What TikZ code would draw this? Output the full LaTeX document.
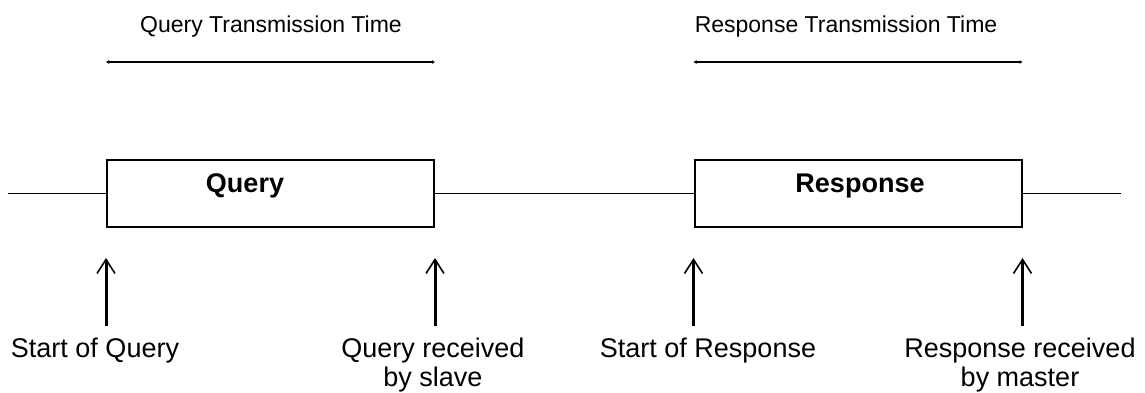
\documentclass[tikz,border=0pt]{standalone}
\usepackage{fontspec}
\setmainfont{Liberation Sans}
\usetikzlibrary{arrows.meta,calc}

\begin{document}
\begin{tikzpicture}[x=0.5pt,y=-0.5pt]
\tikzstyle{frame}=[draw,line width=1pt,minimum width=163.5pt,minimum height=33.5pt,inner sep=0pt]
\tikzstyle{boxtext}=[inner sep=0pt,anchor=base,font=\fontsize{13.5}{14.5}\selectfont\bfseries]
\tikzstyle{title}=[inner sep=0pt,anchor=north,font=\fontsize{11.5}{13}\selectfont]
\tikzstyle{event}=[inner sep=0pt,anchor=north,align=center,font=\fontsize{13.5}{14.5}\selectfont]
\tikzstyle{wire}=[line width=0.75pt]
\tikzstyle{span}=[line width=0.75pt,{Latex[length=1.5pt,width=2pt]}-{Latex[length=1.5pt,width=2pt]}]
\tikzstyle{marker}=[line width=1.5pt,-{Straight Barb[length=7pt,width=9pt,line width=0.8pt]},shorten >=15pt]
\useasboundingbox (0,0) rectangle (1145,392);

% frames on the line
\node[frame] (query) at (270.5,193.5) {};
\node[frame] (response) at (858,193.5) {};
\node[boxtext] (querytext) at (245,192) {Query};
\node[boxtext] (responsetext) at (860,192) {Response};

\coordinate (linestart) at (8,193.5);
\coordinate (lineend) at (1121,193.5);
\draw[wire] (linestart) -- (query.west);
\draw[wire] (query.east) -- (response.west);
\draw[wire] (response.east) -- (lineend);

% transmission times
\node[title] (qtime) at (271,15) {Query Transmission Time};
\node[title] (rtime) at (846,15) {Response Transmission Time};
\draw[span] ($(query.north west)+(0,-97)$) -- ($(query.north east)+(0,-97)$);
\draw[span] ($(response.north west)+(0,-97)$) -- ($(response.north east)+(0,-97)$);

% events
\node[event] (qstart) at (95,338) {Start of Query};
\node[event] (qrecv) at (433,338) {Query received\\by slave};
\node[event] (rstart) at (708,338) {Start of Response};
\node[event] (rrecv) at (1020,338) {Response received\\by master};
\foreach \frm/\corner/\name in {query/south west/a1,query/south east/a2,response/south west/a3,response/south east/a4}{
  \coordinate (\name) at ($(\frm.\corner)+(0,98)$);
  \draw[marker] (\name) -- (\frm.\corner);
}
\end{tikzpicture}
\end{document}
